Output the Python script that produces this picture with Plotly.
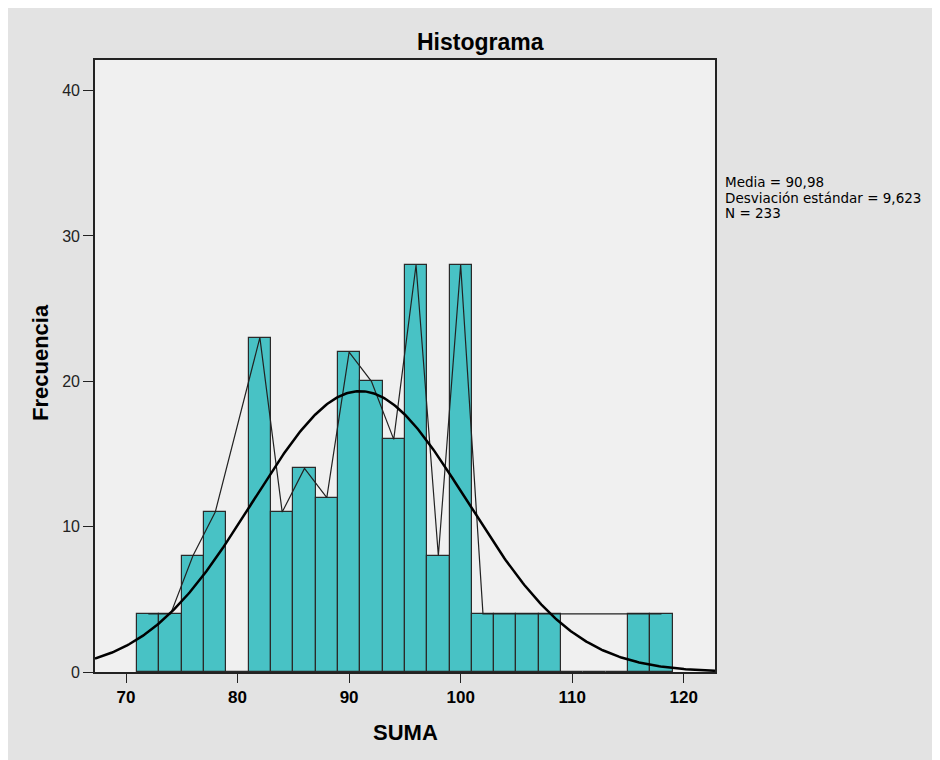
import math
import plotly.graph_objects as go

# ---- data ----
bin_centers = [72, 74, 76, 78, 80, 82, 84, 86, 88, 90, 92, 94, 96, 98, 100,
               102, 104, 106, 108, 110, 112, 114, 116, 118]
counts = [4, 4, 8, 11, 0, 23, 11, 14, 12, 22, 20, 16, 28, 8, 28,
          4, 4, 4, 4, 0, 0, 0, 4, 4]
bin_width = 2
x_ticks = [70, 80, 90, 100, 110, 120]
y_ticks = [0, 10, 20, 30, 40]
MEAN = 90.98
SD = 9.623
N = 233
stats_lines = ["Media = 90,98", "Desviación estándar = 9,623", "N = 233"]

X_RANGE = [67.22, 122.8]
Y_RANGE = [0, 42.1]

# frequency polygon through non-empty bins
poly_x = [c for c, n in zip(bin_centers, counts) if n > 0]
poly_y = [n for n in counts if n > 0]

# fitted normal curve (from the stated mean / sd / N)
steps = 400
curve_x = [X_RANGE[0] + (X_RANGE[1] - X_RANGE[0]) * i / steps for i in range(steps + 1)]
curve_y = [N * bin_width / (SD * math.sqrt(2 * math.pi)) * math.exp(-0.5 * ((x - MEAN) / SD) ** 2)
           for x in curve_x]

fig = go.Figure()
fig.add_trace(go.Bar(x=bin_centers, y=counts, width=bin_width,
                     marker=dict(color="#48c2c5", line=dict(color="#2a2a2a", width=1.2)),
                     hoverinfo="x+y"))
fig.add_trace(go.Scatter(x=poly_x, y=poly_y, mode="lines",
                         line=dict(color="#222222", width=1.2)))
fig.add_trace(go.Scatter(x=curve_x, y=curve_y, mode="lines",
                         line=dict(color="#000000", width=2.5)))

# the page body adds an 8px margin; the figure is laid out in page coordinates minus 8
OFF = 8
W, H = 940 - OFF, 760 - OFF
L, R, T, B = 95 - OFF, 225, 60 - OFF, 88
pw, ph = W - L - R, H - T - B


def px(xp):  # xp: pixel x in the reference picture
    return (xp - OFF - L) / pw


def py(yp):  # yp: pixel y in the reference picture
    return (H - B - (yp - OFF)) / ph


annotations = [
    dict(text="<b>Histograma</b>", x=px(480), y=py(42), xref="paper", yref="paper",
         showarrow=False, xanchor="center", yanchor="middle",
         font=dict(family="Liberation Sans, Arial", size=23, color="#000")),
    dict(text="<b>SUMA</b>", x=px(405), y=py(732), xref="paper", yref="paper",
         showarrow=False, xanchor="center", yanchor="middle",
         font=dict(family="Liberation Sans, Arial", size=22, color="#000")),
    dict(text="<b>Frecuencia</b>", x=px(40), y=py(363), xref="paper", yref="paper",
         showarrow=False, xanchor="center", yanchor="middle", textangle=-90,
         font=dict(family="Liberation Sans, Arial", size=22, color="#000")),
]
for i, line in enumerate(stats_lines):
    annotations.append(dict(text=line, x=px(723), y=py(182 + 15.7 * i), xref="paper", yref="paper",
                            showarrow=False, xanchor="left", yanchor="middle",
                            font=dict(family="DejaVu Sans", size=13.5, color="#000")))

fig.update_layout(
    width=W, height=H,
    margin=dict(l=L, r=R, t=T, b=B, pad=0),
    paper_bgcolor="#e3e3e3",
    plot_bgcolor="#f0f0f0",
    showlegend=False,
    bargap=0,
    annotations=annotations,
    xaxis=dict(range=X_RANGE, tickmode="array", tickvals=x_ticks,
               ticktext=[f"<b>{v}</b>" for v in x_ticks],
               ticks="outside", ticklen=9, tickwidth=1.2, tickcolor="#222",
               showgrid=False, zeroline=False, showline=True, mirror=True,
               linecolor="#222", linewidth=1.6,
               tickfont=dict(family="Liberation Sans, Arial", size=17, color="#000")),
    yaxis=dict(range=Y_RANGE, tickmode="array", tickvals=y_ticks,
               ticks="outside", ticklen=10, tickwidth=1.2, tickcolor="#222",
               showgrid=False, zeroline=False, showline=True, mirror=True,
               linecolor="#222", linewidth=1.6,
               tickfont=dict(family="Liberation Sans, Arial", size=16, color="#222")),
)

fig.write_html("out.html")
